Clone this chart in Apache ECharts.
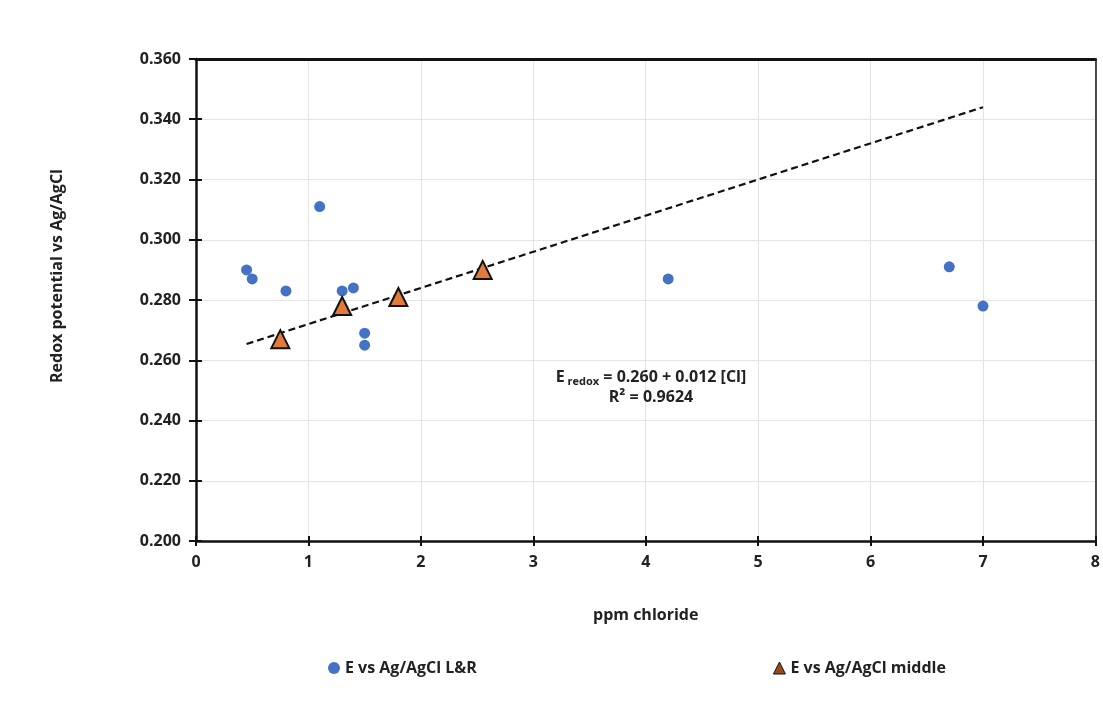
<!DOCTYPE html>
<html>
<head>
<meta charset="utf-8">
<script src="https://cdn.jsdelivr.net/npm/echarts@6/dist/echarts.min.js"></script>
<style>html,body{margin:0;padding:0;background:#fff;}#c{width:1103px;height:703px;}</style>
</head>
<body>
<div id="c"></div>
<script>
// Data
const lrX = [0.45, 0.50, 0.80, 1.10, 1.30, 1.40, 1.50, 1.50, 4.20, 6.70, 7.00];
const lrY = [0.290, 0.287, 0.283, 0.311, 0.283, 0.284, 0.269, 0.265, 0.287, 0.291, 0.278];
const midX = [0.75, 1.30, 1.80, 2.55];
const midY = [0.267, 0.278, 0.281, 0.290];
const trendIntercept = 0.260;
const trendSlope = 0.012;
const trendX = [0.45, 7.0];
const seriesNames = ['E vs Ag/AgCl L&R', 'E vs Ag/AgCl middle'];

const FONT = '"Open Sans", "Liberation Sans", sans-serif';
const chart = echarts.init(document.getElementById('c'));
const lbl = {fontFamily: FONT, fontWeight: 'bold', fontSize: 16, color: '#222'};

const xBase = {type: 'value', min: 0, max: 8, interval: 1};
const yBase = {type: 'value', min: 0.2, max: 0.36, interval: 0.02};

chart.setOption({
  animation: false,
  backgroundColor: '#fff',
  grid: {left: 196, right: 3, top: 59, bottom: 162},
  legend: {
    top: 655, left: 323, itemGap: 296, itemWidth: 12, itemHeight: 12,
    textStyle: {fontFamily: FONT, fontWeight: 'bold', fontSize: 16, color: '#222'},
    data: [
      {name: seriesNames[0], icon: 'circle'},
      {name: seriesNames[1], icon: 'triangle', itemStyle: {color: '#9a4a1a', borderColor: '#111', borderWidth: 1}}
    ]
  },
  xAxis: [
    Object.assign({}, xBase, {
      position: 'bottom', name: 'ppm chloride', nameLocation: 'middle', nameGap: 66,
      nameTextStyle: {fontFamily: FONT, fontWeight: 'bold', fontSize: 16, color: '#222'},
      axisLine: {show: true, onZero: false, lineStyle: {color: '#111', width: 2.5}},
      axisTick: {show: true, length: 5, lineStyle: {color: '#111', width: 2}},
      axisLabel: Object.assign({margin: 13}, lbl),
      splitLine: {show: true, lineStyle: {color: '#e4e4e4', width: 1}}
    }),
    Object.assign({}, xBase, {
      position: 'bottom', gridIndex: 0,
      axisLine: {show: false}, axisLabel: {show: false}, splitLine: {show: false},
      axisTick: {show: true, inside: true, length: 5, lineStyle: {color: '#111', width: 2}}
    }),
    Object.assign({}, xBase, {
      position: 'top',
      axisLine: {show: true, onZero: false, lineStyle: {color: '#111', width: 3}},
      axisTick: {show: false}, axisLabel: {show: false}, splitLine: {show: false}
    })
  ],
  yAxis: [
    Object.assign({}, yBase, {
      position: 'left',
      axisLine: {show: true, onZero: false, lineStyle: {color: '#111', width: 2.5}},
      axisTick: {show: true, length: 7, lineStyle: {color: '#111', width: 2}},
      axisLabel: Object.assign({margin: 15, formatter: v => v.toFixed(3)}, lbl),
      splitLine: {show: true, lineStyle: {color: '#e4e4e4', width: 1}}
    }),
    Object.assign({}, yBase, {
      position: 'left',
      axisLine: {show: false}, axisLabel: {show: false}, splitLine: {show: false},
      axisTick: {show: true, inside: true, length: 6, lineStyle: {color: '#111', width: 2}}
    }),
    Object.assign({}, yBase, {
      position: 'right',
      axisLine: {show: true, onZero: false, lineStyle: {color: '#111', width: 1.5}},
      axisTick: {show: false}, axisLabel: {show: false}, splitLine: {show: false}
    })
  ],
  series: [
    {
      name: 'trend', type: 'line', showSymbol: false, symbol: 'none',
      data: trendX.map(x => [x, trendIntercept + trendSlope * x]),
      lineStyle: {color: '#111', width: 2.2, type: [7, 4]}, z: 2, silent: true
    },
    {
      name: seriesNames[0], type: 'scatter', symbol: 'circle', symbolSize: 11,
      data: lrX.map((x, i) => [x, lrY[i]]),
      itemStyle: {color: '#4472C4', opacity: 1}, z: 3
    },
    {
      name: seriesNames[1], type: 'scatter', symbol: 'triangle', symbolSize: 18,
      data: midX.map((x, i) => [x, midY[i]]),
      itemStyle: {color: '#E07B3B', borderColor: '#111', borderWidth: 2, opacity: 1}, z: 4
    }
  ],
  graphic: [
    {
      type: 'text', x: 57, y: 276, rotation: Math.PI / 2, z: 10,
      style: {text: 'Redox potential vs Ag/AgCl', fontFamily: FONT, fontWeight: 'bold', fontSize: 16, fill: '#222', align: 'center', verticalAlign: 'middle'}
    },
    {
      type: 'text', x: 651, y: 377, z: 10,
      style: {
        text: '{e|E}{s| redox}{e| = 0.260 + 0.012 [Cl]}',
        align: 'center', verticalAlign: 'middle',
        rich: {
          e: {fontFamily: FONT, fontWeight: 'bold', fontSize: 16, fill: '#222'},
          s: {fontFamily: FONT, fontWeight: 'bold', fontSize: 11, fill: '#222', verticalAlign: 'bottom', padding: [9, 0, 0, 0]}
        }
      }
    },
    {
      type: 'text', x: 651, y: 397, z: 10,
      style: {text: 'R² = 0.9624', fontFamily: FONT, fontWeight: 'bold', fontSize: 16, fill: '#222', align: 'center', verticalAlign: 'middle'}
    }
  ]
});
</script>
</body>
</html>
